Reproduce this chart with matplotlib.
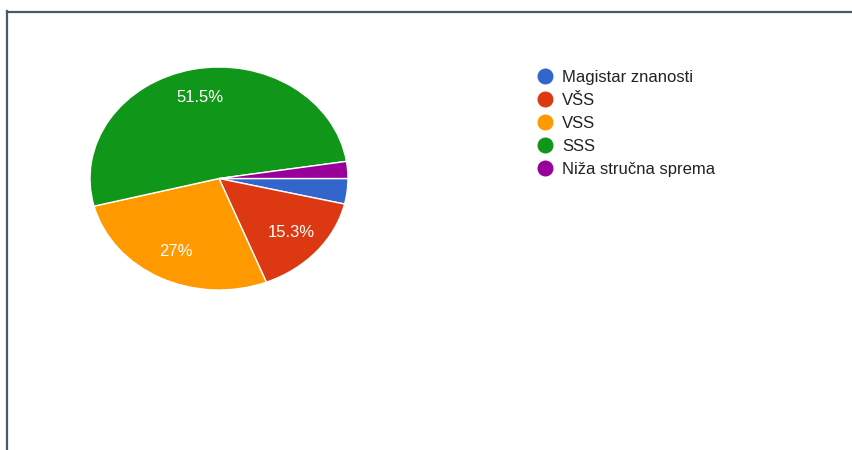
import matplotlib.pyplot as plt
from matplotlib.lines import Line2D

# response counts (163 in total)
labels = ['Magistar znanosti', 'VŠS', 'VSS', 'SSS', 'Niža stručna sprema']
counts = [6, 25, 44, 84, 4]
colors = ['#3366cc', '#dc3912', '#ff9900', '#109618', '#990099']

plt.rcParams['font.family'] = ['Liberation Sans', 'DejaVu Sans']

fig = plt.figure(figsize=(8.53, 4.5), dpi=100)
W, H = 853, 450

# pie box in pixels (left, top, right, bottom) - the pie is a bit stretched sideways
x0, y0, x1, y1 = 90, 67, 348, 290
ax = fig.add_axes([x0 / W, 1 - y1 / H, (x1 - x0) / W, (y1 - y0) / H])


def pct_label(p):
    if p < 5:
        return ''
    s = f'{p:.1f}'
    if s.endswith('.0'):
        s = s[:-2]
    return s + '%'


wedges, texts, autotexts = ax.pie(counts, colors=colors, startangle=0, counterclock=False,
                                  autopct=pct_label, pctdistance=0.74,
                                  wedgeprops=dict(edgecolor='white', linewidth=1))
for t in autotexts:
    t.set_color('white')
    t.set_fontsize(12)
ax.set_aspect('auto')
ax.set_xlim(-1.0, 1.0)
ax.set_ylim(-1.0, 1.0)

# legend with round markers
handles = [Line2D([], [], marker='o', linestyle='none', markersize=10.5,
                  markerfacecolor=c, markeredgecolor=c) for c in colors]
fig.legend(handles, labels, loc='upper left', bbox_to_anchor=(527 / W, 1 - 62 / H),
           frameon=False, fontsize=12, labelspacing=0.47, handletextpad=0.4,
           handlelength=1.2, borderpad=0, labelcolor='#222222')

# frame lines along top and left edge
fig.add_artist(Line2D([7 / W, 1], [1 - 11.5 / H, 1 - 11.5 / H], color='#4a5870', lw=1.6))
fig.add_artist(Line2D([7.5 / W, 7.5 / W], [0, 1 - 11 / H], color='#4a5870', lw=1.6))

fig.savefig('out.png', dpi=100)
